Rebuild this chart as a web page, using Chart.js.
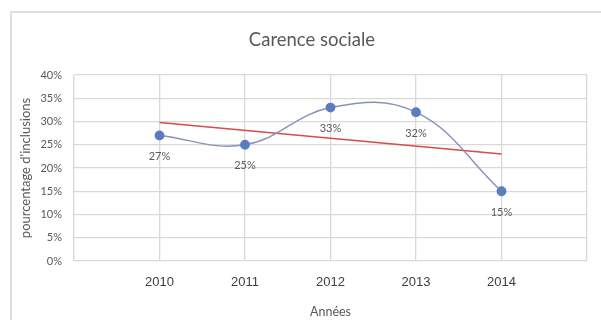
<!DOCTYPE html>
<html>
<head>
<meta charset="utf-8">
<script src="https://cdn.jsdelivr.net/npm/chart.js@4"></script>
<style>
  html, body { margin: 0; padding: 0; background: #ffffff; }
  #frame {
    position: absolute; left: 10px; top: 11px; width: 600px; height: 320px;
    border-left: 2px solid #dedede; border-top: 2px solid #dedede;
  }
  #wrap { position: absolute; left: 0; top: 0; width: 601px; height: 320px; }
</style>
</head>
<body>
<div id="frame"></div>
<div id="wrap"><canvas id="chart" width="601" height="320"></canvas></div>
<script>
// Years on the horizontal axis
const years = [2010, 2011, 2012, 2013, 2014];
// Share of inclusions for each year
const shares = [0.27, 0.25, 0.33, 0.32, 0.15];
// Percentage ticks on the vertical axis
const yTicks = [0, 0.05, 0.10, 0.15, 0.20, 0.25, 0.30, 0.35, 0.40];

const chartTitle = 'Carence sociale';
const xTitle = 'Années';
const yTitle = "pourcentage d'inclusions";

// Least-squares linear trend over the series
function linearTrend(xs, ys) {
  const n = xs.length;
  const mx = xs.reduce((a, b) => a + b, 0) / n;
  const my = ys.reduce((a, b) => a + b, 0) / n;
  let num = 0, den = 0;
  for (let i = 0; i < n; i++) {
    num += (xs[i] - mx) * (ys[i] - my);
    den += (xs[i] - mx) * (xs[i] - mx);
  }
  const slope = num / den;
  return x => my + slope * (x - mx);
}
const trend = linearTrend(years, shares);
const trendPoints = [years[0], years[years.length - 1]].map(x => ({ x, y: trend(x) }));
const seriesPoints = years.map((x, i) => ({ x, y: shares[i] }));

// Percentage value written under each point
const pointLabels = {
  id: 'pointLabels',
  afterDatasetsDraw(chart) {
    const meta = chart.getDatasetMeta(0);
    const ctx = chart.ctx;
    ctx.save();
    ctx.font = '11px Lato';
    ctx.fillStyle = '#595959';
    ctx.textAlign = 'center';
    ctx.textBaseline = 'middle';
    meta.data.forEach((pt, i) => {
      ctx.fillText(Math.round(shares[i] * 100) + '%', pt.x, pt.y + 21);
    });
    ctx.restore();
  }
};

// Chart heading, centred over the whole frame
const heading = {
  id: 'heading',
  afterDraw(chart) {
    const ctx = chart.ctx;
    ctx.save();
    ctx.font = '18.5px Lato';
    ctx.fillStyle = '#595959';
    ctx.textAlign = 'center';
    ctx.textBaseline = 'middle';
    ctx.fillText(chartTitle, 312, 40);
    ctx.restore();
  }
};

new Chart(document.getElementById('chart'), {
  type: 'line',
  data: {
    datasets: [
      {
        label: 'Carence sociale',
        data: seriesPoints,
        borderColor: '#8692bb',
        borderWidth: 1.4,
        backgroundColor: '#5b7dbf',
        pointBackgroundColor: '#5b7dbf',
        pointBorderColor: '#5b7dbf',
        pointRadius: 4.2,
        tension: 0.4,
        fill: false
      },
      {
        label: 'Tendance',
        data: trendPoints,
        borderColor: '#d94a4a',
        borderWidth: 1.5,
        pointRadius: 0,
        tension: 0,
        fill: false
      }
    ]
  },
  options: {
    responsive: false,
    animation: false,
    layout: { padding: { left: 0, right: 9, top: 75, bottom: 0 } },
    plugins: {
      legend: { display: false },
      tooltip: { enabled: false },
      title: { display: false }
    },
    scales: {
      x: {
        type: 'linear',
        min: 2009,
        max: 2015,
        afterFit(scale) { scale.height = 59; },
        ticks: {
          stepSize: 1,
          padding: 14,
          color: '#404040',
          font: { family: 'Liberation Sans', size: 13 },
          callback: v => (years.includes(v) ? String(v) : '')
        },
        grid: { color: '#d9d9d9', lineWidth: 1.3, drawTicks: false },
        border: { display: false },
        title: {
          display: true,
          text: xTitle,
          color: '#595959',
          font: { family: 'Lato', size: 12.5 },
          padding: { top: 0, bottom: 1 }
        }
      },
      y: {
        min: 0,
        max: 0.40,
        afterFit(scale) { scale.width = 74; },
        afterBuildTicks(scale) { scale.ticks = yTicks.map(v => ({ value: v })); },
        ticks: {
          padding: 12,
          color: '#595959',
          font: { family: 'Lato', size: 11 },
          callback: v => Math.round(v * 100) + '%'
        },
        grid: { color: '#d9d9d9', lineWidth: 1.3, drawTicks: false },
        border: { display: false },
        title: {
          display: true,
          text: yTitle,
          color: '#595959',
          font: { family: 'Lato', size: 13 },
          padding: { top: 18, bottom: 0 }
        }
      }
    }
  },
  plugins: [pointLabels, heading]
});
</script>
</body>
</html>
